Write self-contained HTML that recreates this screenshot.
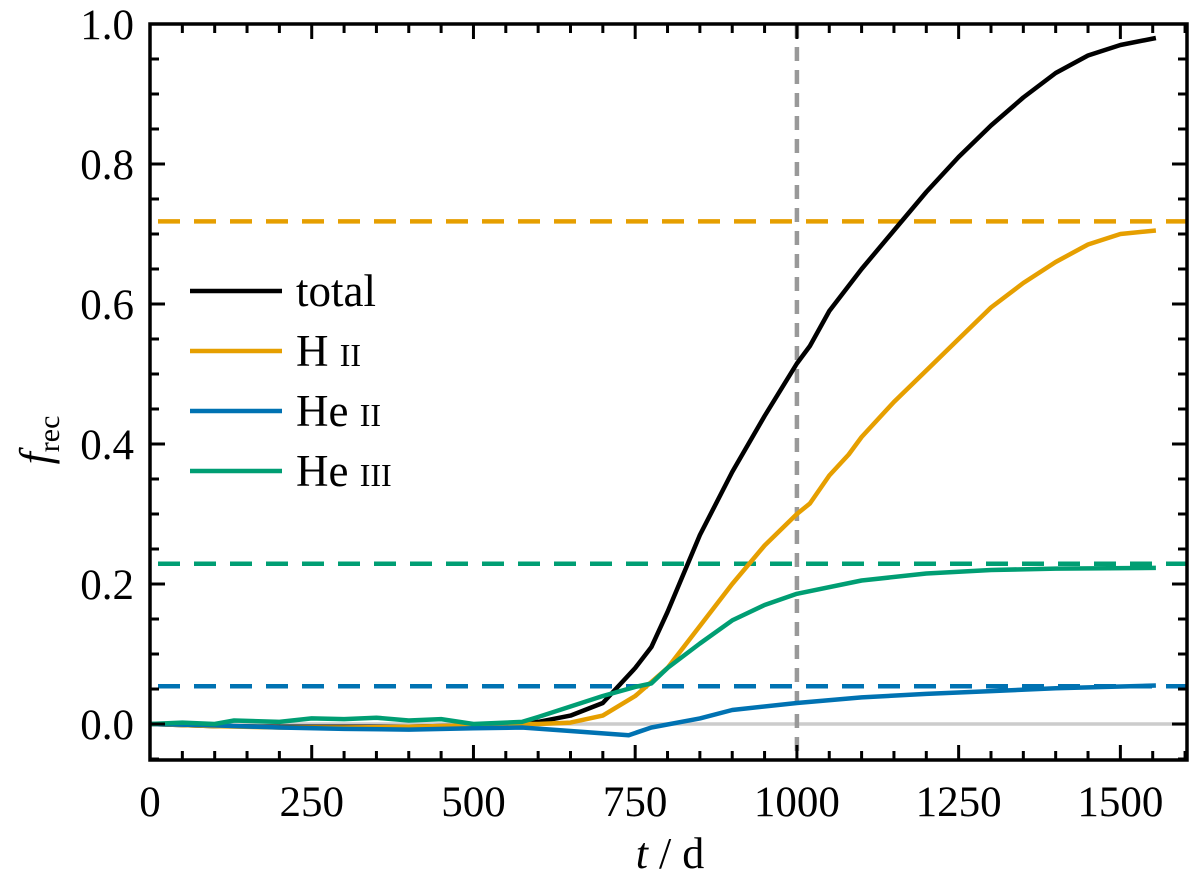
<!DOCTYPE html>
<html><head><meta charset="utf-8"><style>
body{margin:0;background:#fff}
svg{display:block;font-family:"Liberation Serif",serif}
</style></head><body>
<svg id="chart" width="1200" height="884">
<g id="plot"></g>
<g>
<text x="670" y="868" font-size="44" text-anchor="middle" font-family="Liberation Serif"><tspan font-style="italic">t</tspan> / d</text>
</g>
<text transform="translate(50,440) rotate(-90)" text-anchor="middle" font-size="44" font-family="Liberation Serif"><tspan font-style="italic">f</tspan><tspan font-size="30" dy="9">rec</tspan></text>
<g font-family="Liberation Serif" font-size="45">
<g><line x1="190" x2="282" y1="291" y2="291" stroke="#000" stroke-width="4.5"/><text x="296" y="306">total</text></g>
<g><line x1="190" x2="282" y1="351" y2="351" stroke="#E69F00" stroke-width="4.5"/><text x="296" y="366">H <tspan font-variant="small-caps">ii</tspan></text></g>
<g><line x1="190" x2="282" y1="411" y2="411" stroke="#0072B2" stroke-width="4.5"/><text x="296" y="426">He <tspan font-variant="small-caps">ii</tspan></text></g>
<g><line x1="190" x2="282" y1="471" y2="471" stroke="#009E73" stroke-width="4.5"/><text x="296" y="486">He <tspan font-variant="small-caps">iii</tspan></text></g>
</g>
</svg>
<script>
const totalX=[0,100,200,300,400,500,550,600,650,700,725,750,775,800,850,900,950,1000,1020,1050,1100,1150,1200,1250,1300,1350,1400,1450,1500,1555];
const totalY=[0,-0.003,-0.004,-0.004,-0.004,-0.002,0,0.003,0.012,0.03,0.055,0.08,0.11,0.16,0.27,0.36,0.44,0.515,0.54,0.59,0.65,0.705,0.76,0.81,0.855,0.895,0.93,0.955,0.97,0.98];
const hiiX=[0,100,200,300,400,500,550,600,650,700,750,800,850,900,950,1000,1020,1050,1080,1100,1150,1200,1250,1300,1350,1400,1450,1500,1555];
const hiiY=[0,-0.003,-0.005,-0.005,-0.004,-0.002,0,0,0.002,0.012,0.04,0.08,0.14,0.2,0.255,0.3,0.315,0.355,0.385,0.41,0.46,0.505,0.55,0.595,0.63,0.66,0.685,0.7,0.705];
const heiiX=[0,100,200,300,400,500,575,650,740,775,850,900,1000,1100,1200,1300,1400,1555];
const heiiY=[0,-0.002,-0.005,-0.007,-0.008,-0.006,-0.005,-0.01,-0.016,-0.005,0.008,0.02,0.03,0.038,0.043,0.047,0.051,0.055];
const heiiiX=[0,50,100,130,200,250,300,350,400,450,500,550,575,600,650,700,750,775,800,850,900,950,1000,1100,1200,1300,1400,1555];
const heiiiY=[0,0.002,0,0.005,0.003,0.008,0.007,0.009,0.005,0.007,0,0.002,0.003,0.01,0.025,0.04,0.053,0.058,0.08,0.115,0.148,0.17,0.186,0.205,0.215,0.22,0.222,0.223];
const limits=[0.718,0.229,0.054];
const limitColors=["#E69F00","#009E73","#0072B2"];
const xTicks=[0,250,500,750,1000,1250,1500];
const yTicks=[0.0,0.2,0.4,0.6,0.8,1.0];
const L=150,R=1187,T=24,B=760,X0=0,X1=1603,Y0=-0.0514,Y1=1.0;
const sx=v=>L+(v-X0)/(X1-X0)*(R-L);
const sy=v=>B-(v-Y0)/(Y1-Y0)*(B-T);
const NS="http://www.w3.org/2000/svg";
const g=document.getElementById('plot');
function el(t,a,p){const e=document.createElementNS(NS,t);for(const k in a)e.setAttribute(k,a[k]);(p||g).appendChild(e);return e;}
let z=el('line',{x1:L,x2:R,y1:sy(0),y2:sy(0),stroke:'#ccc','stroke-width':3.5});


limits.forEach((v,i)=>{
 const l=el('line',{x1:L,x2:R,y1:sy(v),y2:sy(v),stroke:limitColors[i],'stroke-width':4.5,'stroke-dasharray':'22 14','stroke-dashoffset':'-8'});
 
 
});
const vl=el('line',{x1:sx(1000),x2:sx(1000),y1:T,y2:B,stroke:'#999','stroke-width':4.5,'stroke-dasharray':'14 9'});


function series(xs,ys,c,name){
 const d=xs.map((x,i)=>(i?'L':'M')+sx(x).toFixed(1)+','+sy(ys[i]).toFixed(1)).join('');
 const p=el('path',{d:d,fill:'none',stroke:c,'stroke-width':4.5,'stroke-linejoin':'round'});
 
 
}
series(totalX,totalY,'#000','series-total');
series(hiiX,hiiY,'#E69F00','series-h-ii');
series(heiiX,heiiY,'#0072B2','series-he-ii');
series(heiiiX,heiiiY,'#009E73','series-he-iii');
const fr=el('rect',{x:L,y:T,width:R-L,height:B-T,fill:'none',stroke:'#000','stroke-width':3.5});


for(let v=0;v<=1600;v+=50){const maj=v%250===0;const len=maj?15:9;const x=sx(v);
 el('line',{x1:x,x2:x,y1:B,y2:B-len,stroke:'#000','stroke-width':3});
 el('line',{x1:x,x2:x,y1:T,y2:T+len,stroke:'#000','stroke-width':3});}
for(let k=-1;k<=20;k++){const v=k*0.05;const maj=k%4===0;const len=maj?15:9;const y=sy(v);
 el('line',{x1:L,x2:L+len,y1:y,y2:y,stroke:'#000','stroke-width':3});
 el('line',{x1:R,x2:R-len,y1:y,y2:y,stroke:'#000','stroke-width':3});}
xTicks.forEach(v=>{const t=el('text',{x:sx(v),y:816,'text-anchor':'middle','font-size':43});t.textContent=v;
 
 });
yTicks.forEach(v=>{const t=el('text',{x:134,y:sy(v)+15,'text-anchor':'end','font-size':43});t.textContent=v.toFixed(1);
 
 });
</script>
</body></html>
